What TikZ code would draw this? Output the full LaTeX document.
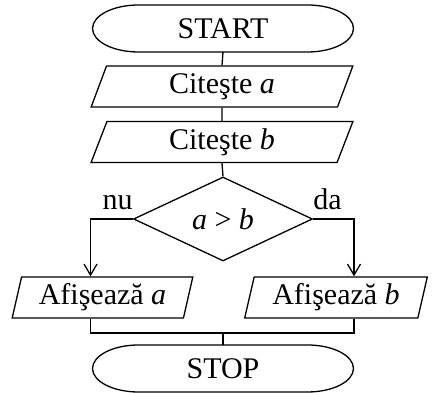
\documentclass[tikz,border=0pt]{standalone}
\usepackage{fontspec}
\setmainfont{Liberation Serif}
\usetikzlibrary{shapes.geometric,arrows.meta}
\def\stadium(#1){\draw[flow] ([xshift=46pt]#1.north west) -- ([xshift=-46pt]#1.north east) arc (90:-90:46pt and 23.5pt) -- ([xshift=46pt]#1.south west) arc (270:90:46pt and 23.5pt) -- cycle;}

\tikzset{
	flow/.style={line width=1.3pt},
	termnode/.style={minimum width=261pt, minimum height=47pt, inner sep=0pt, outer sep=0pt},
	iobox/.style={draw, flow, trapezium, trapezium left angle=75, trapezium right angle=105, trapezium stretches=true, minimum height=41pt, inner sep=0pt},
	testbox/.style={draw, flow, diamond, minimum width=179pt, minimum height=84pt, inner sep=0pt},
	arr/.style={flow, -{Straight Barb[length=11pt,width=13pt]}},
}

\begin{document}
\begin{tikzpicture}[x=1pt, y=1pt, font=\fontsize{30}{34}\selectfont]
			%%%%% START %%%%%
			\useasboundingbox (0,0) rectangle (432,393);
			
			\node[termnode] (start) at (223, 364.5) {START};
			\stadium(start)
			
			\node[iobox, minimum width=262pt] (cita) at (222, 306.5) {Citeşte \textit{a}};
			\node[iobox, minimum width=262pt] (citb) at (222, 251) {Citeşte \textit{b}};
			
			\node[testbox] (test) at (223, 174) {\textit{a} > \textit{b}};
			\node[anchor=base east, inner sep=0pt] (nu) at ([yshift=9.5pt]test.west) {nu};
			\node[anchor=base west, inner sep=0pt] (da) at ([yshift=9.5pt]test.east) {da};
			
			\node[iobox, minimum width=181pt] (afa) at (102.5, 95.5) {Afişează \textit{a}};
			\node[iobox, minimum width=183pt] (afb) at (336, 95.5) {Afişează \textit{b}};
			
			\node[termnode] (stop) at (223, 24.5) {STOP};
			\stadium(stop)
			
			\draw[flow] (start.south) -- (cita.north);
			\draw[flow] (cita.south) -- (citb.north);
			\draw[flow] (citb.south) -- (test.north);
			
			\draw[arr] (test.west) -| ([xshift=-12pt]afa.north);
			\draw[arr] (test.east) -| ([xshift=18pt]afb.north);
			
			\coordinate (join) at (223, 60);
			\draw[flow] ([xshift=-12pt]afa.south) |- (join) -| ([xshift=18pt]afb.south);
			\draw[flow] (join) -- (stop.north);
			
			%%%%% END %%%%%
\end{tikzpicture}
\end{document}
